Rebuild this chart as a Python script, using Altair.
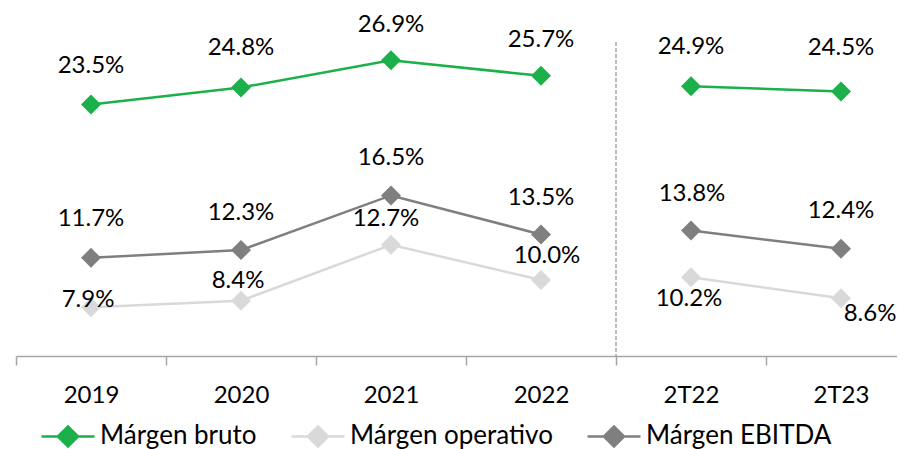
import altair as alt
import pandas as pd

# ---------------- data ----------------
categories = ["2019", "2020", "2021", "2022", "2T22", "2T23"]
periods = ["Anual", "Anual", "Anual", "Anual", "Trimestral", "Trimestral"]
series_names = ["Márgen bruto", "Márgen operativo", "Márgen EBITDA"]
margen_bruto = [23.5, 24.8, 26.9, 25.7, 24.9, 24.5]
margen_operativo = [7.9, 8.4, 12.7, 10.0, 10.2, 8.6]
margen_ebitda = [11.7, 12.3, 16.5, 13.5, 13.8, 12.4]
divider_top = 28.3  # value where the dashed separator line starts

# ---------------- styles ----------------
colors = ["#1cb04b", "#d9d9d9", "#7f7f7f"]
FONT = "Lato"
FS = 24
LEG_FS = 26
PLOT_W = 881
PLOT_H = 348
STEP = 150.0
PX_PER_UNIT = 13.0

rows = []
for name, vals in zip(series_names, [margen_bruto, margen_operativo, margen_ebitda]):
    for i, (cat, per, v) in enumerate(zip(categories, periods, vals)):
        rows.append({"serie": name, "idx": i, "cat": cat, "periodo": per, "valor": v})
df = pd.DataFrame(rows)

x_min = -0.5
x_max = x_min + PLOT_W / STEP
y_min = 4.15
y_max = y_min + PLOT_H / PX_PER_UNIT

x_scale = alt.Scale(domain=[x_min, x_max], nice=False, zero=False)
y_scale = alt.Scale(domain=[y_min, y_max], nice=False, zero=False)
color_scale = alt.Scale(domain=series_names, range=colors)

label_vals = list(range(len(categories)))
boundary_vals = [i - 0.5 for i in range(len(categories))]
js_cats = "[" + ",".join("'%s'" % c for c in categories) + "]"
label_expr = js_cats + "[datum.value]"

label_axis = alt.Axis(
    orient="bottom", values=label_vals, labelExpr=label_expr, grid=False,
    domain=True, domainColor="#a6a6a6", domainWidth=1.5,
    ticks=False, labelFont=FONT, labelFontSize=FS, labelColor="#000000",
    labelBaseline="alphabetic", labelPadding=46,
    labelOverlap=False, labelFlush=False, labelBound=False, title=None,
)
tick_axis = alt.Axis(
    orient="bottom", values=boundary_vals, labels=False, grid=False, domain=False,
    ticks=True, tickSize=9, tickColor="#a6a6a6", tickWidth=1.5, title=None,
)

sym_path = "M-1,0L-0.38,0M0.38,0L1,0M-0.38,0L0,-0.38L0.38,0L0,0.38Z"
legend = alt.Legend(
    title=None, orient="none", legendX=24, legendY=400, direction="horizontal",
    columns=3, symbolType=sym_path, symbolSize=2809, symbolStrokeWidth=2.5,
    symbolOpacity=1, labelLimit=400,
    labelFont=FONT, labelFontSize=LEG_FS, labelColor="#000000", labelOffset=4,
    columnPadding=29, padding=0,
)

x_enc = alt.X("idx:Q", scale=x_scale, axis=label_axis)
y_enc = alt.Y("valor:Q", scale=y_scale, axis=None)
c_enc = alt.Color("serie:N", scale=color_scale, legend=legend)

lines = alt.Chart(df).mark_line(strokeWidth=2.5).encode(
    x=x_enc, y=y_enc, color=c_enc, detail="periodo:N",
)
points = alt.Chart(df).mark_point(shape="diamond", filled=True, size=400, opacity=1).encode(
    x=alt.X("idx:Q", scale=x_scale, axis=None), y=y_enc, color=c_enc,
)

# label offsets (dx, dy) in pixels per point
label_offsets = {
    ("Márgen bruto", "2019"): (0, -38),
    ("Márgen bruto", "2020"): (0, -40),
    ("Márgen bruto", "2021"): (0, -35),
    ("Márgen bruto", "2022"): (0, -36),
    ("Márgen bruto", "2T22"): (0, -39),
    ("Márgen bruto", "2T23"): (0, -43),
    ("Márgen EBITDA", "2019"): (0, -39),
    ("Márgen EBITDA", "2020"): (0, -37),
    ("Márgen EBITDA", "2021"): (0, -37),
    ("Márgen EBITDA", "2022"): (0, -36),
    ("Márgen EBITDA", "2T22"): (1, -37),
    ("Márgen EBITDA", "2T23"): (0, -38),
    ("Márgen operativo", "2019"): (-3, -7),
    ("Márgen operativo", "2020"): (-3, -20),
    ("Márgen operativo", "2021"): (-5, -26),
    ("Márgen operativo", "2022"): (6, -24),
    ("Márgen operativo", "2T22"): (-2, 22),
    ("Márgen operativo", "2T23"): (29, 16),
}

texts = []
for (serie, cat), (dx, dy) in label_offsets.items():
    t = (
        alt.Chart(df)
        .transform_filter((alt.datum.serie == serie) & (alt.datum.cat == cat))
        .transform_calculate(label="format(datum.valor, '.1f') + '%'")
        .mark_text(dx=dx, dy=dy, font=FONT, fontSize=FS, color="#000000",
                   align="center", baseline="middle")
        .encode(x=alt.X("idx:Q", scale=x_scale, axis=None),
                y=alt.Y("valor:Q", scale=y_scale, axis=None),
                text="label:N")
    )
    texts.append(t)

divider_df = pd.DataFrame({"x": [periods.count("Anual") - 0.5], "y": [divider_top], "y2": [y_min]})
divider = alt.Chart(divider_df).mark_rule(
    color="#a6a6a6", strokeWidth=1.5, strokeDash=[4, 2]
).encode(x=alt.X("x:Q", scale=x_scale, axis=tick_axis),
         y=alt.Y("y:Q", scale=y_scale, axis=None), y2="y2:Q")

chart = (
    alt.layer(divider, lines, points, *texts)
    .resolve_axis(x="independent")
    .properties(
        width=PLOT_W, height=PLOT_H,
        padding={"left": 8, "top": 0, "right": 0, "bottom": 93},
        autosize=alt.AutoSizeParams(type="none"),
    )
    .configure_view(stroke=None)
)

chart.save("out.html", embed_options={"renderer": "svg", "actions": False})
